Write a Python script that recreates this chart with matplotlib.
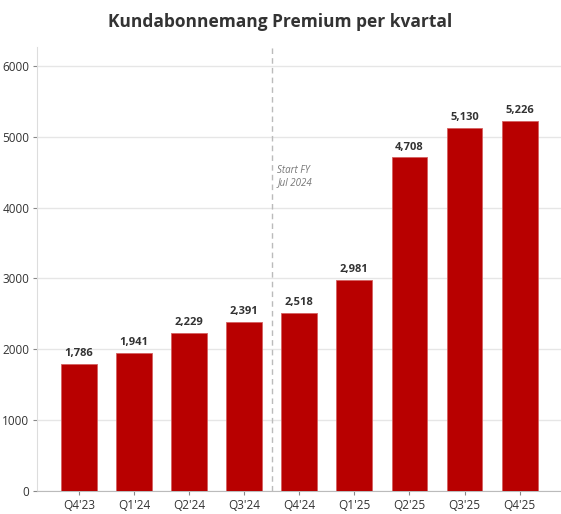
import matplotlib
matplotlib.use("Agg")
import matplotlib.pyplot as plt
from matplotlib import font_manager

names = {f.name for f in font_manager.fontManager.ttflist}
fam = ["Liberation Sans Narrow", "DejaVu Sans"] if "Liberation Sans Narrow" in names else ["Open Sans", "DejaVu Sans"]
plt.rcParams['font.family'] = fam

quarters = ["Q4'23", "Q1'24", "Q2'24", "Q3'24", "Q4'24", "Q1'25", "Q2'25", "Q3'25", "Q4'25"]
subscribers = [1786, 1941, 2229, 2391, 2518, 2981, 4708, 5130, 5226]
yticks = [0, 1000, 2000, 3000, 4000, 5000, 6000]
title = "Kundabonnemang Premium per kvartal"
annotation = "Start FY\nJul 2024"

fig = plt.figure(figsize=(5.61, 5.14), dpi=100)
ax = fig.add_axes([0.066, 0.045, 0.934, 0.864])

x = list(range(len(quarters)))
bars = ax.bar(x, subscribers, width=0.65, color="#B80000", edgecolor="#D46060", linewidth=0.6, zorder=3)
for xi, v in zip(x, subscribers):
    ax.text(xi, v + 70, f"{v:,}", ha="center", va="bottom", fontsize=8, fontweight="bold", color="#333333")

ax.set_xlim(-0.76, 8.75)
ax.set_ylim(0, max(subscribers) * 1.2)
ax.set_xticks(x)
ax.set_xticklabels(quarters, fontsize=8.5, color="#333333")
ax.set_yticks(yticks)
ax.set_yticklabels([str(t) for t in yticks], fontsize=8.5, color="#333333")
ax.tick_params(axis="both", length=3, color="#888888", width=0.8, pad=2.5)
ax.grid(axis="y", color="#E6E6E6", linewidth=1.0, zorder=0)
ax.set_axisbelow(True)
for s in ["top", "right"]:
    ax.spines[s].set_visible(False)
ax.spines["left"].set_color("#DDDDDD")
ax.spines["bottom"].set_color("#BBBBBB")

ax.axvline(3.5, color="#BBBBBB", linestyle=(0, (4, 3)), linewidth=1.0, zorder=2)
ax.text(3.6, max(subscribers) * 0.85, annotation, fontsize=7, style="italic", color="#777777", ha="left", va="center")

fig.suptitle(title, fontsize=12.5, fontweight="bold", color="#333333", y=0.975)
fig.savefig("out.png", dpi=100, facecolor="white")
